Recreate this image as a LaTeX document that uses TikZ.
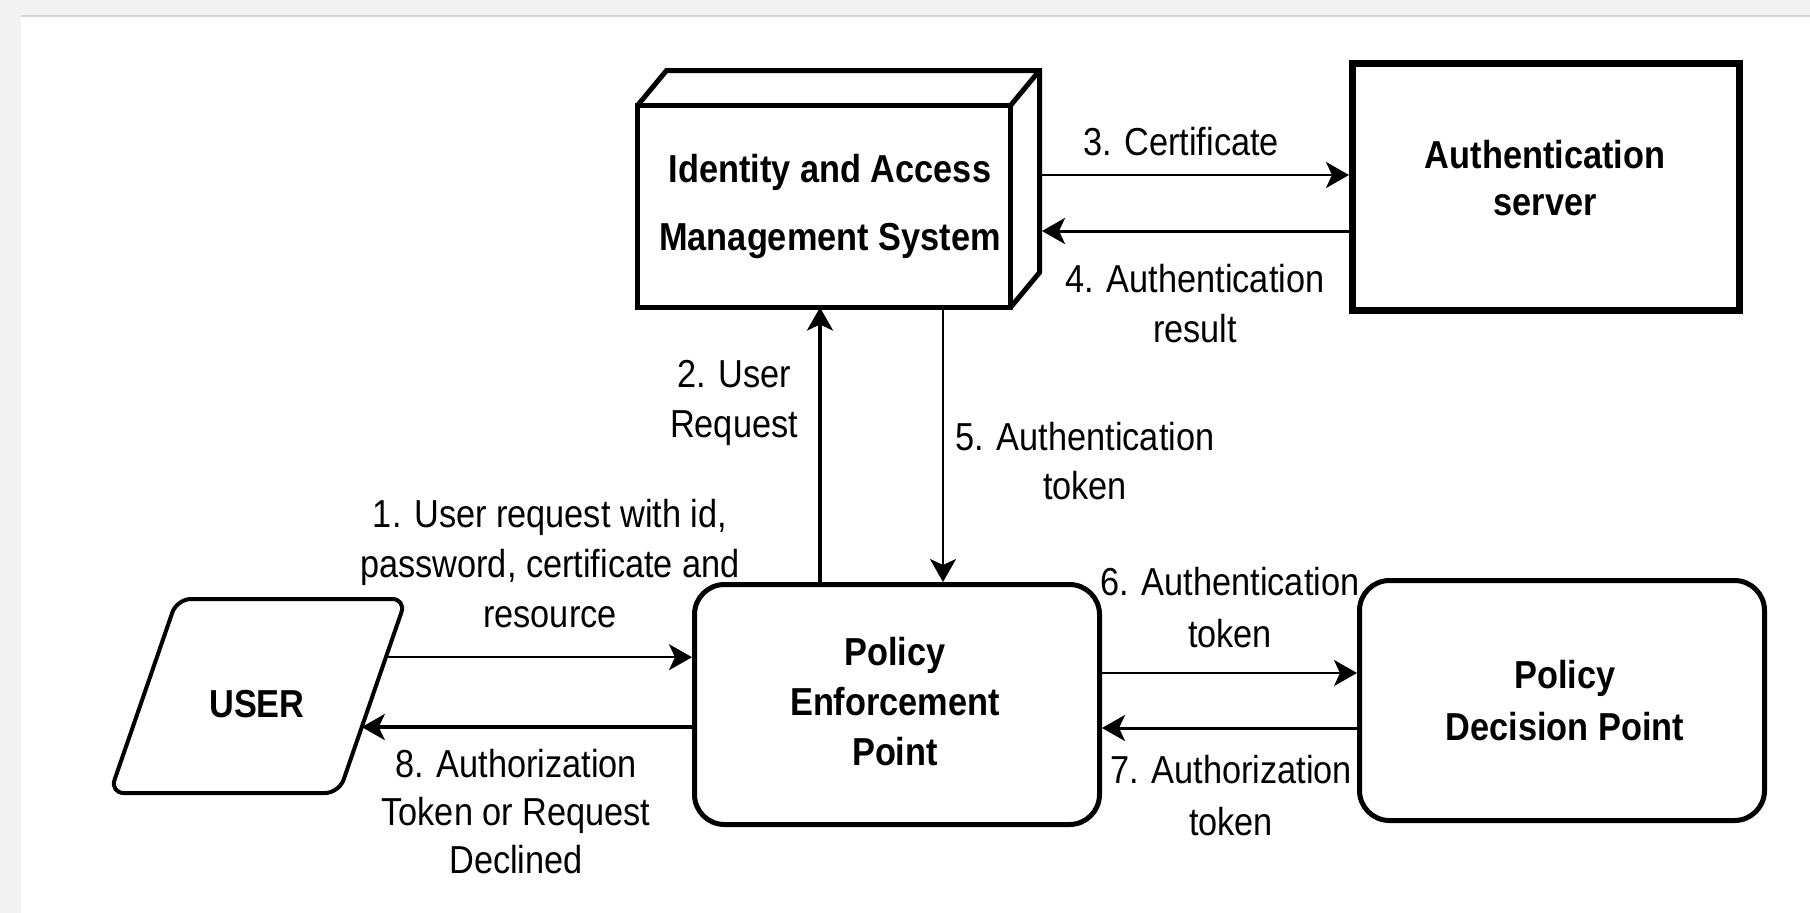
\documentclass[tikz,border=0pt]{standalone}
\usepackage{fontspec}
\setmainfont{Liberation Sans}[FakeStretch=0.88]
\usetikzlibrary{arrows.meta,calc}
\definecolor{pagegrey}{HTML}{F2F2F2}
\definecolor{edgegrey}{HTML}{D4D4D4}
\newcommand\mlines[1]{\vtop{\halign{\hfil##\hfil\cr#1\crcr}}}
\begin{document}
\begin{tikzpicture}[x=1pt,y=-1pt,
  box/.style={draw=black, fill=white, inner sep=0pt},
  lbl/.style={anchor=base, inner sep=0pt, font={\fontsize{39}{#1}\selectfont}},
  lbl/.default=50,
  blbl/.style={anchor=base, inner sep=0pt, font={\fontsize{39}{#1}\selectfont\bfseries}},
  blbl/.default=50,
  arr/.style={-{Stealth[length=23pt,width=26pt,inset=6pt]}, line width=2.5pt},
]
\useasboundingbox (0,0) rectangle (1810,913);
% page background
\fill[pagegrey] (0,0) rectangle (1810,913);
\fill[white] (21,17) rectangle (1810,913);
\draw[edgegrey, line width=2pt] (21,16) -- (1810,16);

% Identity and Access Management System (3D box)
\node[box, line width=5pt, outer sep=0pt, minimum width=373pt, minimum height=202pt] (iam) at (824,206.5) {};
\draw[line width=5pt, line join=miter] (iam.north west) -- ++(29,-35) -- ++(373,0) coordinate (iamtr) -- ++(0,202) coordinate (iambr) -- (iam.south east);
\draw[line width=5pt] (iam.north east) -- (iamtr);
\coordinate (iamside) at ($(iamtr)+(2.5,0)$);
\node[blbl=68] (iamtxt) at (830,182) {\mlines{Identity and Access\cr Management System}};

% Authentication server
\node[box, line width=7pt, minimum width=387pt, minimum height=247pt] (auth) at (1546,187) {};
\node[blbl=47] (authtxt) at (1545,168) {\mlines{Authentication\cr server}};

% Policy Enforcement Point
\node[box, line width=5pt, rounded corners=30pt, minimum width=405pt, minimum height=240pt] (pep) at (897,704.5) {};
\node[blbl=50] (peptxt) at (895,665) {\mlines{Policy\cr Enforcement\cr Point}};

% Policy Decision Point
\node[box, line width=5pt, rounded corners=30pt, minimum width=405pt, minimum height=240pt] (pdp) at (1562,700.5) {};
\node[blbl=52] (pdptxt) at (1565,688) {\mlines{Policy\cr Decision Point}};

% USER parallelogram
\coordinate (utl) at (177,599);
\coordinate (utr) at (406,599);
\coordinate (ubr) at (339,793);
\coordinate (ubl) at (110,793);
\draw[line width=4pt, rounded corners=14pt] ($(utl)!0.5!(utr)$) -- (utr) -- (ubr) -- (ubl) -- (utl) -- cycle;
\node[blbl] (user) at (257,717) {USER};
\coordinate (u1) at ($(utr)!0.30!(ubr)$);
\coordinate (u2) at ($(utr)!0.66!(ubr)$);

% connectors
\coordinate (c2) at (820,0);
\coordinate (c5) at (943,0);
\coordinate (c3) at (0,175);
\coordinate (c4) at (0,231);
\coordinate (c6) at (0,673);
\coordinate (c7) at (0,728);

\draw[arr] (u1) -- (u1 -| pep.west);
\draw[arr, line width=3.5pt] (u2 -| pep.west) -- (u2);
\draw[arr, line width=3.5pt] (c2 |- pep.north) -- (c2 |- iam.south);
\draw[arr] (c5 |- iam.south) -- (c5 |- pep.north);
\draw[arr] (iamside |- c3) -- (auth.west |- c3);
\draw[arr, line width=3pt] (auth.west |- c4) -- (iamside |- c4);
\draw[arr] (pep.east |- c6) -- (pdp.west |- c6);
\draw[arr, line width=3pt] (pdp.west |- c7) -- (pep.east |- c7);

% labels
\node[lbl=50] (l1) at (550,527) {\mlines{1. User request with id,\cr password, certificate and\cr resource}};
\node[lbl=50] (l2) at (734,387) {\mlines{2. User\cr Request}};
\node[lbl] (l3) at (1181,155) {3. Certificate};
\node[lbl=50] (l4) at (1195,292) {\mlines{4. Authentication\cr result}};
\node[lbl=49] (l5) at (1085,450) {\mlines{5. Authentication\cr token}};
\node[lbl=52] (l6) at (1230,595) {\mlines{6. Authentication\cr token}};
\node[lbl=52] (l7) at (1231,783) {\mlines{7. Authorization\cr token}};
\node[lbl=48] (l8) at (516,777) {\mlines{8. Authorization\cr Token or Request\cr Declined}};
\end{tikzpicture}
\end{document}
